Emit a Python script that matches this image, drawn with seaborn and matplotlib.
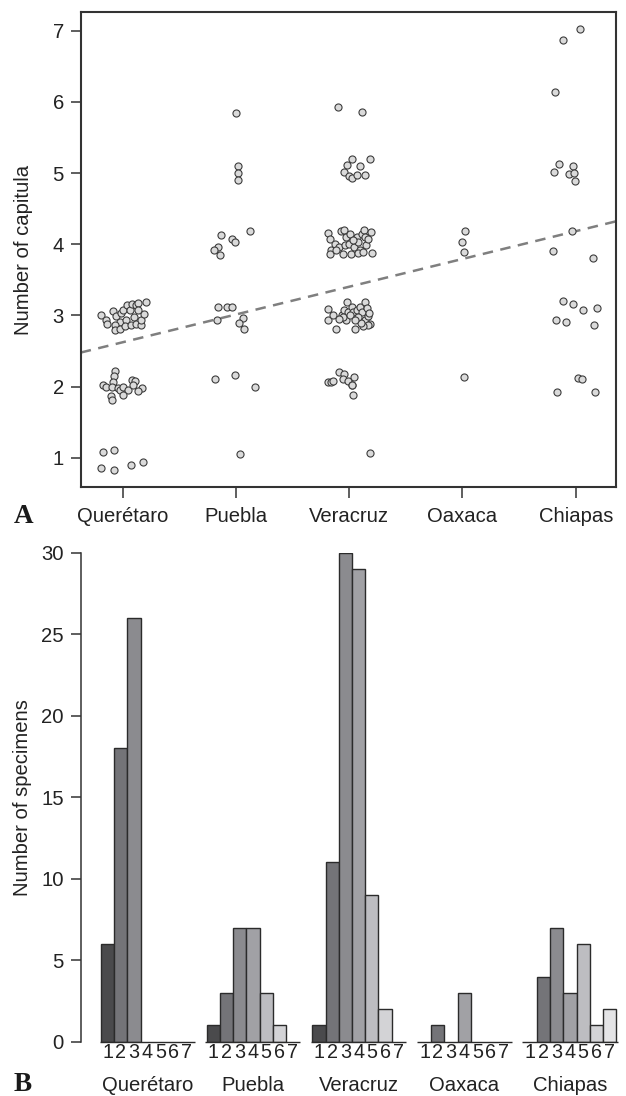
import numpy as np
import pandas as pd
import matplotlib
matplotlib.use("Agg")
import matplotlib.pyplot as plt
import matplotlib.transforms as mtransforms
import seaborn as sns

# ---------------- data ----------------
regions = ["Querétaro", "Puebla", "Veracruz", "Oaxaca", "Chiapas"]
capitula_classes = [1, 2, 3, 4, 5, 6, 7]

# number of specimens per number of capitula (1..7)
counts_queretaro = [6, 18, 26, 0, 0, 0, 0]
counts_puebla = [1, 3, 7, 7, 3, 1, 0]
counts_veracruz = [1, 11, 30, 29, 9, 2, 0]
counts_oaxaca = [0, 1, 0, 3, 0, 0, 0]
counts_chiapas = [0, 4, 7, 3, 6, 1, 2]

# jittered points as displayed in panel A (x = region position, y = capitula)
queretaro_x = [-0.189, -0.144, -0.141, -0.086, -0.059, -0.027, -0.071, -0.065, -0.015, 0.006,
               0.038, 0.026, -0.021, 0.023, 0.070, 0.067, 0.085, 0.120, 0.132, 0.100,
               0.114, 0.159, 0.164, 0.188, 0.203, 0.135,
               -0.071, -0.080, -0.089, -0.174, -0.144, -0.094, -0.044, -0.021, 0.000, 0.044,
               0.079, 0.106, 0.091, 0.170, 0.135, -0.100, -0.091, 0.000,
               -0.177, -0.077, -0.189, -0.077, 0.076, 0.177]
queretaro_y = [3.001, 2.940, 2.875, 3.062, 2.987, 2.908, 2.861, 2.800, 3.034, 3.081,
               3.142, 2.940, 2.814, 2.851, 2.861, 3.072, 3.165, 3.142, 3.175, 2.978,
               2.884, 2.861, 2.931, 3.015, 3.189, 3.081,
               2.214, 2.143, 2.068, 2.026, 1.989, 1.993, 1.979, 1.956, 1.989, 1.956,
               2.097, 2.078, 2.026, 1.979, 1.937, 1.872, 1.815, 1.881,
               1.088, 1.112, 0.859, 0.831, 0.896, 0.944]

puebla_x = [1.000, 1.015, 1.020, 1.018, 0.868, 1.124, 0.962, 0.994, 0.838, 0.806, 0.856,
            0.838, 0.918, 0.965, 0.832, 1.062, 1.026, 1.071, 0.817, 0.988, 1.170, 1.035]
puebla_y = [5.852, 5.101, 5.003, 4.900, 4.127, 4.187, 4.080, 4.038, 3.958, 3.916, 3.855,
            3.118, 3.124, 3.124, 2.941, 2.963, 2.893, 2.805, 2.101, 2.157, 1.999, 1.056]

veracruz_x = [1.900, 2.115,
              2.021, 2.183, 1.983, 2.094, 1.953, 1.997, 2.024, 2.071, 2.139,
              1.809, 1.829, 1.838, 1.829, 1.879, 1.909, 1.932, 1.956, 1.976, 1.962,
              1.947, 2.006, 2.015, 1.997, 2.044, 2.065, 2.079, 2.094, 2.074, 2.109,
              2.132, 2.138, 2.153, 2.168, 2.197, 2.203, 2.124, 2.035, 1.888,
              1.809, 1.815, 1.859, 1.888, 1.938, 1.956, 1.979, 1.991, 1.976, 1.947,
              2.021, 2.035, 2.050, 2.065, 2.094, 2.109, 2.124, 2.138, 2.144, 2.159,
              2.168, 2.177, 2.182, 2.162, 2.118, 2.103, 2.006, 1.909, 2.074, 2.050,
              1.815, 1.839, 1.859, 1.912, 1.953, 1.947, 1.992, 2.027, 2.045, 2.036, 2.021,
              2.186]
veracruz_y = [5.927, 5.861,
              5.196, 5.196, 5.121, 5.097, 5.017, 4.956, 4.932, 4.980, 4.970,
              4.159, 4.080, 3.916, 3.859, 4.000, 3.963, 4.183, 4.197, 4.103, 3.986,
              3.869, 4.141, 3.869, 4.009, 3.963, 4.103, 4.033, 3.925, 3.878, 4.150,
              4.206, 4.103, 3.986, 4.080, 4.173, 3.878, 3.892, 4.056, 3.925,
              3.096, 2.941, 3.002, 2.805, 3.011, 3.072, 3.189, 3.049, 2.941, 2.978,
              3.119, 3.049, 2.814, 3.081, 3.119, 3.049, 2.908, 2.941, 3.189, 3.110,
              2.988, 3.035, 2.875, 2.861, 2.847, 2.894, 3.002, 2.955, 2.978, 2.931,
              2.068, 2.068, 2.073, 2.204, 2.181, 2.106, 2.077, 2.026, 2.138, 1.881, 2.017,
              1.070]

oaxaca_x = [3.024, 2.997, 3.012, 3.015]
oaxaca_y = [4.187, 4.038, 3.897, 2.134]

chiapas_x = [4.034, 3.892, 3.818,
             3.851, 3.810, 3.980, 3.945, 3.989, 3.992,
             3.968, 3.800, 4.154,
             3.886, 3.977, 4.063, 4.192, 3.822, 3.913, 4.160,
             4.016, 4.054, 3.836, 4.169]
chiapas_y = [7.028, 6.873, 6.138,
             5.129, 5.017, 5.101, 4.985, 4.999, 4.896,
             4.193, 3.902, 3.813,
             3.198, 3.166, 3.082, 3.100, 2.935, 2.903, 2.865,
             2.120, 2.101, 1.918, 1.923]

bar_grays = ["#4a4a4c", "#747478", "#8b8b8f", "#a1a1a5", "#bdbdc1", "#d3d3d6", "#e4e4e6"]

# ---------------- style ----------------
sns.set_theme(style="white")
plt.rcParams["font.family"] = ["Liberation Sans", "DejaVu Sans"]
TXT = "#222222"
EDGE = "#333333"
plt.rcParams["text.color"] = TXT
plt.rcParams["axes.labelcolor"] = TXT
plt.rcParams["xtick.color"] = EDGE
plt.rcParams["ytick.color"] = EDGE
plt.rcParams["xtick.labelcolor"] = TXT
plt.rcParams["ytick.labelcolor"] = TXT

FS = 14.6
fig = plt.figure(figsize=(6.26, 10.96), dpi=100)
W, H = 626.0, 1096.0

# ---------------- panel A ----------------
ax1 = fig.add_axes([80.7 / W, 1 - 487.0 / H, 535.0 / W, 474.7 / H])

all_x = queretaro_x + puebla_x + veracruz_x + oaxaca_x + chiapas_x
all_y = queretaro_y + puebla_y + veracruz_y + oaxaca_y + chiapas_y
sns.scatterplot(x=all_x, y=all_y, s=26, color="#dadada", edgecolor="#3c3c3c",
                linewidth=0.8, ax=ax1, zorder=3, legend=False)

xlim1 = (-0.37, 4.353)
ax1.set_xlim(*xlim1)
all_counts = [counts_queretaro, counts_puebla, counts_veracruz, counts_oaxaca, counts_chiapas]
reg_x, reg_y = [], []
for i, cnts in enumerate(all_counts):
    for c, n in zip(capitula_classes, cnts):
        reg_x += [i] * n
        reg_y += [c] * n
sns.regplot(x=np.array(reg_x, float), y=np.array(reg_y, float), scatter=False, ci=None,
            truncate=False, color="#7f7f7f",
            line_kws=dict(linestyle=(0, (4.2, 3.0)), linewidth=1.8, zorder=2), ax=ax1)
ax1.set_xlim(*xlim1)
ax1.set_ylim(0.59, 7.26)

ax1.set_xticks(range(len(regions)))
ax1.set_xticklabels(regions, fontsize=FS)
ax1.set_yticks(range(1, 8))
ax1.set_yticklabels([str(v) for v in range(1, 8)], fontsize=FS)
ax1.tick_params(axis="x", direction="out", length=7.6, width=1.1, pad=6.5, bottom=True)
ax1.tick_params(axis="y", direction="out", length=7.2, width=1.1, pad=5.0, left=True)
for sp in ax1.spines.values():
    sp.set_visible(True)
    sp.set_color(EDGE)
    sp.set_linewidth(1.5)
ax1.set_xlabel("")
ax1.set_ylabel("Number of capitula", fontsize=FS)
ax1.yaxis.set_label_coords(-0.090, 0.5)

# ---------------- panel B ----------------
ax2 = fig.add_axes([80.7 / W, 1 - 1041.7 / H, (W - 80.7) / W, 489.0 / H])

rows = []
for g, cnts in enumerate(all_counts):
    for c, n in zip(capitula_classes, cnts):
        rows.append(dict(pos=g * 8 + (c - 1), count=n, cap=str(c), region=regions[g]))
df = pd.DataFrame(rows)
df_bars = df[df["count"] > 0]

sns.barplot(data=df_bars, x="pos", y="count", hue="cap",
            hue_order=[str(c) for c in capitula_classes], palette=bar_grays,
            native_scale=True, dodge=False, width=1.0, saturation=1,
            edgecolor="#2b2b2b", linewidth=1.0, errorbar=None, legend=False, ax=ax2)

ax2.set_xlim(-2.037, 39.24)
ax2.set_ylim(0, 30)
for g in range(len(regions)):
    ax2.hlines(0, g * 8 - 0.6, g * 8 + 6.6, color="#2b2b2b", linewidth=1.0, clip_on=False, zorder=5)

ax2.set_xticks(df["pos"].tolist())
ax2.set_xticklabels(df["cap"].tolist(), fontsize=14.2)
ax2.tick_params(axis="x", length=0, pad=1.2)
ax2.set_yticks([0, 5, 10, 15, 20, 25, 30])
ax2.set_yticklabels(["0", "5", "10", "15", "20", "25", "30"], fontsize=FS)
ax2.tick_params(axis="y", direction="out", length=7.2, width=1.1, pad=5.0, left=True)
for side in ["top", "right", "bottom"]:
    ax2.spines[side].set_visible(False)
ax2.spines["left"].set_color(EDGE)
ax2.spines["left"].set_linewidth(1.1)
ax2.set_xlabel("")
ax2.set_ylabel("Number of specimens", fontsize=FS)
ax2.yaxis.set_label_coords(-0.0884, 0.5)

trans = mtransforms.blended_transform_factory(ax2.transData, ax2.transAxes)
for g, name in enumerate(regions):
    ax2.text(g * 8 + 3, -0.1002, name, transform=trans, ha="center", va="baseline", fontsize=FS)

# panel letters
fig.text(14 / W, 1 - 523.3 / H, "A", fontfamily=["Liberation Serif", "DejaVu Serif"],
         fontweight="bold", fontsize=19.5, ha="left", va="baseline", color="#1a1a1a")
fig.text(14 / W, 1 - 1090.7 / H, "B", fontfamily=["Liberation Serif", "DejaVu Serif"],
         fontweight="bold", fontsize=19.5, ha="left", va="baseline", color="#1a1a1a")

fig.savefig("out.png", dpi=100, facecolor="white")
